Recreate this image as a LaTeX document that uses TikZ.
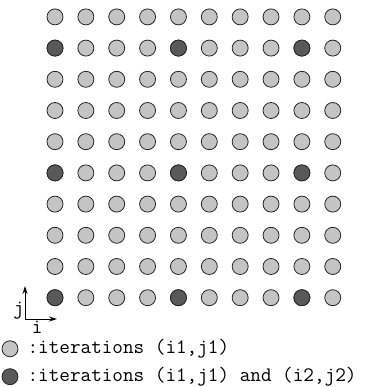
\documentclass[tikz,border=0pt]{standalone}
\usepackage{fontspec}
\usetikzlibrary{arrows.meta, positioning}

\begin{document}
\begin{tikzpicture}[
    x=1pt, y=1pt,
    font=\fontsize{20.6}{22}\selectfont\ttfamily,
    >={Stealth[length=8pt,width=5pt]},
    iter/.style  ={circle, draw=black!85, line width=0.8pt,
                   minimum size=16pt, inner sep=0pt, fill=black!23},
    both/.style  ={iter, fill=black!65},
    axis/.style  ={->, line width=0.9pt},
    lbl/.style   ={inner sep=0pt},
  ]

  \useasboundingbox (0,0) rectangle (371,387);

  %% --- grid origin and spacing -------------------------------------------
  \def\xO{55}       % first column
  \def\yO{89.3}     % first row (bottom)
  \def\dx{30.86}
  \def\dy{31.2}

  %% --- iteration points --------------------------------------------------
  \foreach \i in {1,...,10} {
    \foreach \j in {1,...,10} {
      \node[iter] (p-\i-\j) at ({\xO+(\i-1)*\dx},{\yO+(\j-1)*\dy}) {};
    }
  }
  % points shared by both iterations
  \foreach \i in {1,5,9} {
    \foreach \j in {1,5,9} {
      \node[both] at (p-\i-\j) {};
    }
  }

  %% --- axes --------------------------------------------------------------
  \coordinate (orig) at (25,68);
  \coordinate (iend) at (57,68);
  \coordinate (jend) at (25,101);
  \draw[axis] (orig) -- (iend);
  \draw[axis] (orig) -- (jend);
  \node[lbl] (ilbl) at (37.3,59.5) {i};
  \node[lbl] (jlbl) at (18.8,76)   {j};

  %% --- legend ------------------------------------------------------------
  \node[iter] (key1) at (10,38.2) {};
  \node[both] (key2) at (10,10.3) {};
  \node[lbl, right=9pt of key1] (txt1) {:iterations (i1,j1)};
  \node[lbl, right=9pt of key2] (txt2) {:iterations (i1,j1) and (i2,j2)};

\end{tikzpicture}
\end{document}
